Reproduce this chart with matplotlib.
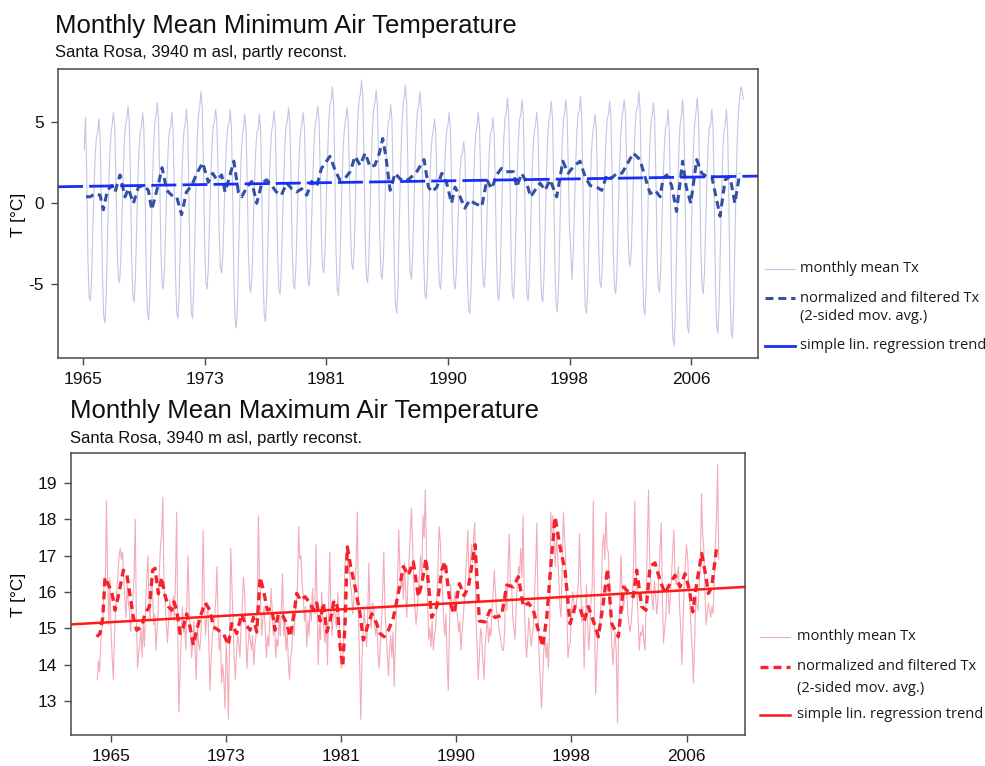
import numpy as np
import matplotlib.pyplot as plt
from matplotlib.lines import Line2D

# =========================
# DATA (months counted from Jan 1965)
# =========================

# monthly mean minimum temperature, first value = Feb 1965
tmin_start = 1
tmin_rows = [
    [3.3, 5.3, 2.0, -3.5, -5.8, -6.0, -4.7, -1.7, 0.9, 3.0, 4.1],
    [4.3, 5.2, 4.2, 0.4, -4.6, -7.0, -7.4, -5.8, -2.5, 0.7, 3.0, 4.3],
    [4.9, 5.6, 4.8, 1.6, -2.6, -4.6, -4.9, -3.6, -0.8, 1.9, 3.8, 4.9],
    [5.2, 6.0, 5.0, 1.4, -3.4, -5.7, -6.1, -4.7, -1.7, 1.2, 3.3, 4.4],
    [4.7, 5.6, 4.6, 0.7, -4.4, -6.8, -7.2, -5.6, -2.1, 1.1, 3.5, 4.9],
    [5.4, 6.2, 5.3, 1.8, -2.8, -5.0, -5.3, -4.0, -1.2, 1.5, 3.4, 4.5],
    [4.7, 5.6, 4.6, 0.8, -4.3, -6.7, -7.1, -5.6, -2.2, 0.9, 3.2, 4.5],
    [4.9, 5.8, 4.8, 0.9, -4.3, -6.7, -7.1, -5.4, -1.8, 1.6, 4.1, 5.5],
    [6.0, 6.9, 5.9, 2.3, -2.6, -4.9, -5.3, -4.0, -1.1, 1.6, 3.6, 4.7],
    [5.1, 5.8, 5.0, 2.0, -2.1, -4.0, -4.3, -3.1, -0.5, 2.0, 3.8, 4.8],
    [4.9, 5.8, 4.7, 0.7, -4.7, -7.3, -7.7, -6.1, -2.7, 0.5, 2.9, 4.2],
    [4.7, 5.5, 4.6, 1.3, -3.1, -5.2, -5.5, -4.2, -1.3, 1.3, 3.3, 4.4],
    [4.6, 5.5, 4.5, 0.6, -4.5, -6.9, -7.3, -5.7, -2.4, 0.8, 3.1, 4.4],
    [4.9, 5.7, 4.8, 1.4, -3.1, -5.3, -5.6, -4.2, -1.2, 1.5, 3.6, 4.8],
    [5.1, 5.9, 5.0, 1.6, -2.8, -5.0, -5.3, -4.0, -1.2, 1.5, 3.4, 4.5],
    [4.9, 5.6, 4.7, 1.5, -2.7, -4.8, -5.1, -3.8, -0.9, 1.8, 3.8, 4.9],
    [5.3, 6.0, 5.2, 2.1, -2.0, -4.0, -4.3, -2.9, 0.1, 2.8, 4.9, 6.1],
    [6.3, 7.2, 6.2, 2.3, -2.9, -5.3, -5.7, -4.3, -1.3, 1.5, 3.6, 4.7],
    [5.2, 5.9, 5.1, 2.1, -1.9, -3.8, -4.1, -2.7, 0.3, 3.2, 5.3, 6.4],
    [6.7, 7.6, 6.6, 2.9, -2.2, -4.5, -4.9, -3.5, -0.4, 2.5, 4.6, 5.8],
    [6.2, 7.0, 6.1, 2.6, -2.1, -4.4, -4.7, -3.4, -0.6, 2.0, 3.9, 5.0],
    [5.2, 6.1, 5.1, 1.2, -4.0, -6.4, -6.8, -5.1, -1.4, 1.9, 4.5, 5.9],
    [6.5, 7.3, 6.3, 2.7, -2.1, -4.3, -4.7, -3.3, -0.3, 2.5, 4.6, 5.7],
    [6.0, 6.9, 5.9, 2.0, -3.1, -5.5, -5.9, -4.6, -1.7, 1.0, 3.0, 4.1],
    [4.5, 5.2, 4.4, 1.2, -3.0, -5.0, -5.3, -4.0, -1.2, 1.5, 3.4, 4.5],
    [4.8, 5.6, 4.7, 1.5, -2.9, -5.0, -5.3, -4.2, -1.8, 0.3, 2.0, 2.9],
    [3.1, 3.8, 3.0, -0.2, -4.5, -6.5, -6.8, -5.3, -2.1, 0.9, 3.1, 4.4],
    [4.8, 5.6, 4.7, 1.5, -2.8, -4.9, -5.2, -3.9, -1.2, 1.3, 3.2, 4.3],
    [4.5, 5.3, 4.4, 1.0, -3.5, -5.7, -6.0, -4.5, -1.3, 1.8, 4.0, 5.3],
    [5.6, 6.5, 5.5, 1.8, -3.2, -5.5, -5.9, -4.4, -1.2, 1.7, 3.9, 5.2],
    [5.5, 6.4, 5.4, 1.7, -3.3, -5.6, -6.0, -4.6, -1.6, 1.2, 3.3, 4.4],
    [4.8, 5.6, 4.7, 1.2, -3.5, -5.7, -6.1, -4.6, -1.4, 1.6, 3.8, 5.1],
    [5.4, 6.3, 5.3, 1.4, -3.8, -6.3, -6.7, -5.1, -1.7, 1.4, 3.8, 5.1],
    [5.6, 6.4, 5.5, 2.2, -1.5, -2.8, -4.7, -3.3, -0.4, 2.3, 4.3, 5.5],
    [5.7, 6.6, 5.5, 1.5, -3.9, -6.4, -6.8, -5.3, -2.1, 0.8, 3.0, 4.3],
    [4.8, 5.5, 4.6, 1.4, -2.8, -4.9, -5.2, -3.8, -0.8, 1.9, 4.0, 5.2],
    [5.5, 6.3, 5.4, 1.8, -3.0, -5.2, -5.6, -4.2, -1.0, 1.8, 4.0, 5.2],
    [5.7, 6.4, 5.6, 2.5, -1.6, -3.6, -3.9, -2.6, 0.2, 2.8, 4.7, 5.8],
    [5.9, 6.9, 5.8, 1.7, -3.9, -6.5, -6.9, -5.3, -1.9, 1.2, 3.6, 4.9],
    [5.4, 6.2, 5.3, 1.8, -2.9, -5.2, -5.5, -4.1, -1.2, 1.5, 3.5, 4.7],
    [4.8, 5.8, 4.6, 0.3, -5.6, -8.4, -8.8, -7.0, -3.0, 0.6, 3.4, 4.9],
    [5.4, 6.4, 5.2, 0.9, -4.8, -7.6, -8.0, -6.3, -2.5, 1.0, 3.6, 5.0],
    [5.6, 6.5, 5.5, 1.9, -2.9, -5.2, -5.6, -4.2, -1.3, 1.5, 3.5, 4.7],
    [4.8, 5.8, 4.7, 0.6, -5.0, -7.6, -8.0, -6.3, -2.8, 0.6, 3.0, 4.4],
    [4.8, 5.8, 4.7, 0.4, -5.2, -7.9, -8.3, -6.4, -2.4, 1.3, 4.1, 5.7],
    [6.5, 7.2, 6.9, 6.4],
]

# normalized and filtered Tmin: (month, value)
tmin_smooth = [
    (2.5, 0.41), (5.8, 0.4), (10, 0.6), (14, 0.5), (16.7, -0.4), (20, 0.8),
    (23.6, 1.1), (26.3, 0.7), (30.4, 1.75), (34.5, 0.4), (37.3, 0.9),
    (41.4, 0.0), (45.5, 1.0), (49.6, 1.1), (53.7, 0.8), (56.5, -0.4),
    (62, 1.2), (65, 2.2), (68.8, 0.8), (72.9, 0.5), (77, 0.4), (81, -0.7),
    (85, 0.7), (89.4, 1.1), (93.5, 1.85), (98.4, 2.5), (103, 1.3),
    (106.6, 1.85), (110, 1.45), (114, 1.75), (116.8, 0.7), (120.3, 1.6),
    (124, 2.6), (127.7, 0.7), (130.5, 0.4), (134.6, 1.0), (138.7, 1.35),
    (142.8, 0.0), (147, 1.25), (151, 1.45), (155, 1.1), (159, 0.7),
    (163, 0.5), (167.5, 1.25), (171.6, 0.9), (175.7, 0.7), (179.8, 0.9),
    (184, 0.5), (188, 1.35), (192, 1.0), (196, 2.15), (203, 2.9),
    (207, 2.1), (211, 1.45), (215.5, 1.55), (219.6, 1.95), (223.7, 2.9),
    (227.8, 2.35), (232, 3.1), (236, 2.25), (240, 2.35), (243.7, 3.1),
    (246.4, 4.0), (249, 2.9), (252.5, 0.8), (256.6, 1.85), (260.7, 1.5),
    (265, 1.35), (268.9, 1.55), (274.4, 1.95), (280.4, 2.7), (284, 1.0),
    (286.8, 0.7), (290.9, 1.0), (295, 1.85), (299, 1.25), (303, 0.0),
    (305.9, 1.0), (310, 0.4), (314, -0.3), (318, 0.2), (322, 0.0),
    (327.9, -0.2), (332, 1.45), (336, 0.9), (340, 1.75), (344, 2.15),
    (348, 1.95), (353.9, 1.95), (356.6, 1.0), (360.7, 1.85), (364.8, 1.25),
    (368, 0.4), (371.6, 0.8), (375.8, 1.25), (379.9, 0.8), (384, 1.45),
    (389.5, 0.4), (394.5, 2.6), (399, 1.85), (403, 2.25), (408.7, 2.6),
    (412.8, 1.65), (416.9, 1.1), (422.4, 1.0), (426.5, 0.8), (430.6, 1.75),
    (434.7, 1.55), (438.8, 1.85), (443, 1.85), (447, 2.35), (452.4, 3.1),
    (457.9, 2.7), (462, 1.65), (466.3, 0.6), (470.4, 0.8), (474.5, 0.4),
    (477, 1.55), (480, 1.75), (484, 1.1), (488, -0.5), (493, 2.6),
    (496, 1.0), (499.7, 0.0), (504.6, 2.7), (508.8, 1.85), (512.9, 1.65),
    (517, 1.65), (521, 0.2), (523.8, -0.8), (528, 1.45), (532, 1.65),
    (536, 0.0), (540, 1.85),
]

# simple linear trend, read at the left and right frame edges
tmin_trend_months = [-20.6, 555]
tmin_trend_vals = [1.02, 1.68]

# monthly mean maximum temperature, first value = Jan 1964
tmax_start = -12
tmax_rows = [
    [13.6, 14.1, 13.8, 14.6, 15.0, 15.3, 16.4, 16.2, 18.5, 16.4, 15.1, 16.4],
    [14.9, 14.2, 13.6, 14.8, 15.5, 16.0, 16.5, 17.0, 17.2, 16.9, 17.1, 16.4],
    [15.8, 15.3, 16.2, 15.7, 15.5, 14.9, 15.5, 15.8, 16.4, 18.0, 15.3, 13.9],
    [14.3, 14.6, 15.0, 14.2, 15.2, 14.5, 15.6, 16.4, 17.0, 15.7, 15.2, 16.4],
    [16.0, 15.1, 15.4, 14.4, 15.0, 15.5, 16.6, 17.3, 17.6, 18.6, 16.2, 15.7],
    [15.2, 14.6, 15.2, 15.8, 15.3, 15.6, 15.9, 15.2, 16.4, 18.2, 14.8, 12.7],
    [13.9, 14.8, 15.6, 14.9, 15.1, 14.4, 16.0, 17.0, 15.3, 15.0, 14.2, 14.6],
    [15.2, 14.4, 13.6, 15.1, 14.6, 14.4, 14.8, 15.6, 17.7, 15.9, 14.8, 15.2],
    [15.7, 14.5, 13.3, 14.2, 14.8, 15.0, 15.3, 15.8, 16.7, 15.2, 14.4, 14.9],
    [13.5, 14.0, 13.6, 12.8, 14.6, 13.9, 12.5, 14.8, 17.2, 16.2, 15.1, 14.2],
    [13.6, 14.3, 14.8, 14.6, 14.2, 15.1, 15.6, 16.4, 16.0, 15.1, 13.9, 14.5],
    [14.9, 14.7, 14.4, 14.8, 14.0, 14.5, 14.8, 15.6, 18.1, 16.4, 15.6, 14.8],
    [15.3, 15.6, 14.9, 14.2, 14.8, 14.5, 15.2, 16.1, 15.5, 14.8, 15.3, 14.2],
    [14.7, 14.5, 15.3, 14.8, 15.6, 16.5, 14.8, 15.2, 14.4, 14.9, 14.1, 13.6],
    [14.2, 14.4, 15.1, 14.8, 15.4, 15.7, 16.2, 17.8, 16.9, 17.0, 16.2, 15.9],
    [15.2, 15.6, 14.5, 15.2, 14.8, 15.7, 15.2, 16.1, 15.5, 15.4, 17.3, 15.8],
    [14.0, 15.1, 14.7, 16.0, 15.3, 14.9, 14.6, 15.4, 14.0, 15.6, 17.1, 15.6],
    [14.8, 15.3, 15.8, 15.2, 15.0, 16.0, 15.3, 14.6, 13.9, 14.1, 14.5, 16.7],
    [17.0, 17.2, 16.5, 16.7, 16.2, 16.0, 15.4, 15.8, 16.3, 16.9, 18.2, 15.3],
    [14.0, 12.5, 14.2, 14.9, 15.5, 15.0, 14.5, 15.3, 16.8, 15.4, 15.0, 15.7],
    [15.6, 15.1, 14.8, 15.2, 14.3, 13.9, 14.6, 15.2, 16.0, 17.1, 15.5, 14.9],
    [14.3, 13.7, 14.4, 14.8, 14.2, 14.9, 13.4, 14.6, 15.6, 16.4, 17.7, 16.6],
    [16.1, 16.4, 15.8, 16.8, 16.0, 15.3, 16.4, 16.9, 17.6, 18.3, 17.3, 16.2],
    [15.6, 15.1, 15.5, 16.0, 16.5, 17.0, 16.3, 18.1, 17.5, 18.8, 17.2, 15.8],
    [14.7, 15.0, 14.5, 15.2, 14.4, 14.8, 15.0, 15.8, 16.6, 17.8, 17.4, 16.6],
    [16.0, 15.2, 14.8, 15.4, 14.1, 13.3, 15.0, 16.2, 15.6, 15.5, 15.8, 16.0],
    [15.6, 15.3, 14.9, 15.2, 14.4, 14.9, 15.3, 15.8, 16.4, 17.0, 17.7, 16.2],
    [16.6, 17.3, 16.8, 17.5, 17.9, 15.3, 14.6, 13.6, 14.2, 15.0, 14.8, 14.1],
    [13.6, 14.5, 14.9, 15.3, 14.6, 15.0, 14.8, 15.5, 16.0, 16.6, 16.0, 15.4],
    [15.4, 15.0, 14.8, 14.6, 14.4, 14.4, 15.0, 16.2, 15.5, 16.8, 17.6, 16.2],
    [16.2, 15.3, 15.0, 14.7, 15.6, 16.2, 16.7, 16.5, 17.2, 16.4, 18.1, 15.7],
    [14.8, 14.2, 14.7, 15.3, 14.9, 14.5, 14.8, 15.1, 16.0, 16.8, 17.9, 15.3],
    [14.2, 13.5, 12.8, 13.6, 14.4, 14.7, 14.2, 14.6, 13.9, 15.0, 18.2, 17.6],
    [18.1, 17.4, 16.7, 17.6, 17.0, 16.4, 15.6, 15.3, 16.8, 18.2, 17.5, 16.9],
    [15.6, 14.2, 14.5, 14.6, 15.4, 16.0, 15.8, 15.4, 15.6, 15.9, 16.2, 17.6],
    [16.4, 15.2, 15.6, 13.9, 15.1, 16.2, 15.2, 14.4, 14.9, 15.8, 16.1, 18.5],
    [15.5, 13.2, 14.1, 14.8, 14.9, 15.3, 16.0, 17.3, 17.6, 16.9, 18.2, 17.2],
    [17.1, 16.2, 15.3, 14.6, 14.0, 14.5, 14.9, 14.3, 12.4, 15.0, 15.8, 17.0],
    [16.1, 15.5, 15.8, 16.2, 16.0, 15.4, 15.1, 14.9, 15.2, 15.7, 16.8, 18.5],
    [16.8, 16.0, 15.2, 14.4, 14.9, 14.8, 15.1, 14.6, 14.4, 16.0, 17.5, 18.8],
    [16.9, 16.2, 15.8, 15.5, 16.3, 16.0, 15.4, 15.7, 16.4, 17.2, 17.9, 15.8],
    [14.6, 15.0, 15.3, 16.2, 16.0, 15.4, 15.9, 16.5, 17.1, 17.7, 16.5, 16.2],
    [16.5, 16.7, 15.6, 14.9, 14.0, 15.2, 16.2, 16.8, 17.3, 16.9, 16.2, 15.6],
    [14.9, 14.4, 13.5, 14.6, 15.9, 15.6, 15.5, 16.2, 16.7, 18.7, 17.6, 17.2],
    [16.0, 15.1, 15.4, 15.7, 15.5, 15.3, 15.6, 15.4, 16.2, 17.3, 18.0, 19.5],
    [16.9],
]

tmax_smooth = [
    (-12.5, 14.77), (-9.6, 14.86), (-7.2, 15.3), (-5.2, 16.4), (-2.3, 16.2),
    (0.6, 16.0), (3.5, 15.5), (6.4, 15.9), (10.7, 16.6), (13.6, 16.5),
    (16.5, 15.9), (19.4, 15.3), (22.3, 14.95), (26.6, 15.05), (29.5, 15.4),
    (33.3, 15.6), (36.2, 16.6), (38.2, 16.65), (41.1, 15.95), (44, 16.4),
    (46.9, 15.9), (49.8, 15.6), (52.7, 15.5), (54.7, 15.73), (57, 15.5),
    (60, 14.86), (62.8, 15.04), (65.7, 15.4), (68.6, 15.04), (71.5, 14.54),
    (74.4, 14.95), (77.3, 15.3), (81.7, 15.7), (86, 15.5), (88.9, 15.04),
    (93.3, 14.95), (97.6, 14.86), (101.9, 14.54), (104.8, 15.13),
    (109.2, 14.86), (113.5, 15.4), (116.4, 15.13), (120.8, 14.95),
    (123.7, 15.3), (126.6, 14.9), (129.5, 16.4), (132.4, 16.05),
    (135.8, 15.5), (139.6, 15.55), (142.5, 14.95), (145.4, 15.4),
    (149.1, 15.36), (152.6, 15.13), (155.5, 14.77), (159, 15.4),
    (161.3, 15.96), (164.8, 15.77), (168.5, 15.87), (172.9, 15.7),
    (175.8, 15.5), (178.7, 15.7), (181.6, 15.2), (184.5, 15.7),
    (187.4, 14.9), (190.3, 15.2), (193.7, 15.77), (196.6, 15.6),
    (199, 14.5), (201.3, 13.95), (203.3, 15.13), (205.3, 17.24),
    (208.2, 16.7), (212, 16.14), (216.3, 15.4), (219.2, 14.68),
    (222.7, 15.04), (226.5, 15.4), (230.8, 15.13), (233.7, 14.86),
    (237.2, 14.77), (241, 14.95), (245.3, 15.3), (249.6, 15.96),
    (254, 16.7), (258.3, 16.46), (262.6, 16.83), (267, 15.87),
    (270, 16.23), (273.6, 16.92), (278.6, 15.3), (283, 15.6),
    (287.3, 16.6), (290.2, 16.83), (294.5, 15.7), (298, 15.4),
    (302.7, 16.23), (306.8, 15.9), (310.5, 16.14), (316.3, 17.3),
    (320, 15.2), (325, 15.18), (329.3, 15.5), (333.6, 15.3),
    (339.4, 15.36), (343.8, 16.19), (349.5, 16.14), (353.9, 16.42),
    (358.2, 15.6), (362.6, 15.7), (366.9, 15.5), (371.2, 14.95),
    (375, 14.5), (378.5, 15.3), (382.8, 17.0), (385.8, 18.06),
    (390.1, 17.24), (394.4, 16.6), (398.8, 15.13), (403.1, 15.6),
    (407.5, 15.55), (411, 15.2), (414.7, 15.6), (419, 15.2),
    (423.4, 14.77), (427.7, 15.7), (431.3, 16.64), (435, 15.13),
    (440.8, 14.77), (445.1, 16.14), (448, 16.05), (453.8, 15.87),
    (456.7, 16.6), (461, 15.6), (464.8, 15.5), (468.3, 16.7),
    (472.6, 16.8), (477, 16.32), (481.3, 15.96), (485.7, 16.23),
    (490, 16.46), (494.4, 16.14), (498.7, 16.5), (502.5, 16.05),
    (505.4, 15.45), (508.8, 16.23), (513.2, 17.06), (516.9, 16.42),
    (519, 15.96), (521.9, 16.14), (526.2, 17.24),
]

tmax_trend_months = [-34.8, 550.8]
tmax_trend_vals = [15.11, 16.14]

# axis ticks: one every 100 months, labelled with the year
tick_months = [0, 100, 200, 300, 400, 500]
tick_labels = ["1965", "1973", "1981", "1990", "1998", "2006"]

legend_labels = ["monthly mean Tx",
                 "normalized and filtered Tx",
                 "(2-sided mov. avg.)",
                 "simple lin. regression trend"]

# =========================
# HELPERS
# =========================

W, H = 985, 766


def to_year(months):
    return 1965 + np.asarray(months, dtype=float) / 12.0


def flat_series(rows, start):
    vals = np.array([v for row in rows for v in row])
    return to_year(start + np.arange(len(vals))), vals


def fx(px):
    return px / W


def fy(py):
    return 1 - py / H


def style_axes(ax, xlim_months, ylim, yticks):
    ax.set_xlim(to_year(xlim_months))
    ax.set_ylim(ylim)
    ax.set_xticks(to_year(tick_months))
    ax.set_xticklabels(tick_labels)
    ax.set_yticks(yticks)
    ax.set_yticklabels([str(t) for t in yticks])
    for sp in ax.spines.values():
        sp.set_color("#4a4a4a")
        sp.set_linewidth(1.1)
    ax.tick_params(direction="out", length=5, width=1.0, color="#4a4a4a",
                   labelsize=12.5, labelcolor="#111111", pad=5)
    for lab in ax.get_xticklabels() + ax.get_yticklabels():
        lab.set_family("Liberation Sans")


def draw_legend(fig, x_line, x_text, ys, raw_kw, smooth_kw, trend_kw):
    handles = [raw_kw, smooth_kw, None, trend_kw]
    for y, kw, label in zip(ys, handles, legend_labels):
        if kw is not None:
            fig.add_artist(Line2D([fx(x_line), fx(x_line + 30)],
                                  [fy(y), fy(y)], **kw))
        fig.text(fx(x_text), fy(y), label, va="center", ha="left",
                 fontsize=10.5, family="Open Sans", color="#1a1a1a")


# =========================
# FIGURE
# =========================

fig = plt.figure(figsize=(W / 100, H / 100), dpi=100)

title_kw = dict(family="Liberation Sans", color="#111111", va="baseline")

# ---- top: minimum temperature
ax1 = fig.add_axes([fx(58), fy(358), fx(700), 289 / H])

x, y = flat_series(tmin_rows, tmin_start)
raw_min_kw = dict(color="#c3c6e6", lw=0.8)
ax1.plot(x, y, **raw_min_kw)

sm = np.array(tmin_smooth)
smooth_min_kw = dict(color="#3450a4", lw=2.2, linestyle=(0, (2.6, 1.6)))
ax1.plot(to_year(sm[:, 0]), sm[:, 1], **smooth_min_kw)

ax1.plot(to_year(tmin_trend_months), tmin_trend_vals, color="#1a2ef5",
         lw=2.0, linestyle=(0, (9, 2.2)))

style_axes(ax1, [-20.6, 555], (-9.55, 8.29), [-5, 0, 5])

fig.text(fx(55), fy(33), "Monthly Mean Minimum Air Temperature",
         fontsize=18.5, **title_kw)
fig.text(fx(55), fy(57), "Santa Rosa, 3940 m asl, partly reconst.",
         fontsize=12, **title_kw)
fig.text(fx(18), fy(215), "T [°C]", rotation=90, va="center", ha="center",
         fontsize=12.5, family="Liberation Sans")

draw_legend(fig, 765, 800, [269, 298, 316, 346],
            raw_min_kw,
            dict(color="#3450a4", lw=2.2, linestyle=(0, (2.6, 1.6))),
            dict(color="#1a2ef5", lw=2.0))

# ---- bottom: maximum temperature
ax2 = fig.add_axes([fx(71), fy(735), fx(674), 282 / H])

x, y = flat_series(tmax_rows, tmax_start)
raw_max_kw = dict(color="#f3abb8", lw=0.8)
ax2.plot(x, y, **raw_max_kw)

sm = np.array(tmax_smooth)
smooth_max_kw = dict(color="#f5222d", lw=2.4, linestyle=(0, (2.4, 1.5)))
ax2.plot(to_year(sm[:, 0]), sm[:, 1], **smooth_max_kw)

trend_max_kw = dict(color="#ff1a1a", lw=1.8)
ax2.plot(to_year(tmax_trend_months), tmax_trend_vals, **trend_max_kw)

style_axes(ax2, [-34.8, 550.8], (12.07, 19.82), [13, 14, 15, 16, 17, 18, 19])

fig.text(fx(70), fy(418), "Monthly Mean Maximum Air Temperature",
         fontsize=18.5, **title_kw)
fig.text(fx(70), fy(443), "Santa Rosa, 3940 m asl, partly reconst.",
         fontsize=12, **title_kw)
fig.text(fx(18), fy(595), "T [°C]", rotation=90, va="center", ha="center",
         fontsize=12.5, family="Liberation Sans")

draw_legend(fig, 760, 797, [637, 667, 689, 715],
            raw_max_kw, smooth_max_kw, trend_max_kw)

fig.savefig("out.png", dpi=100)
